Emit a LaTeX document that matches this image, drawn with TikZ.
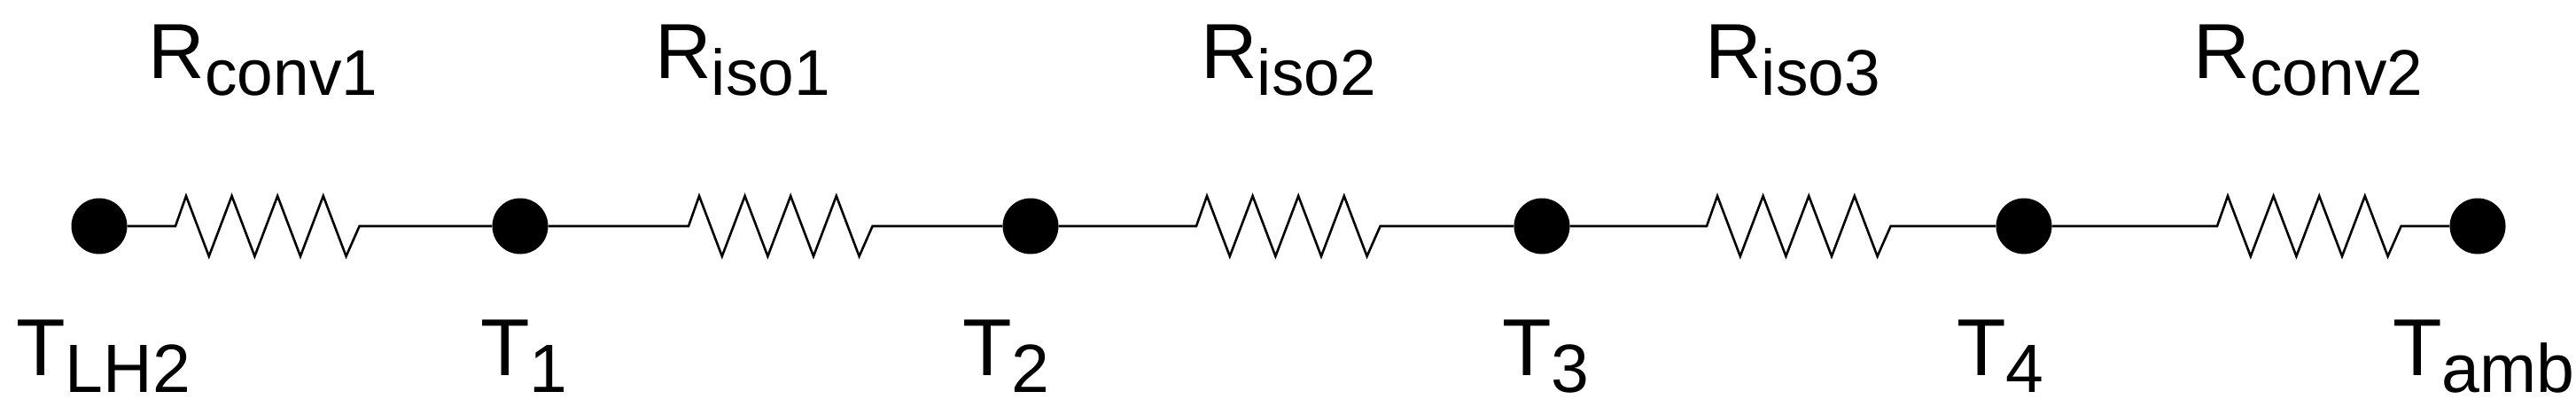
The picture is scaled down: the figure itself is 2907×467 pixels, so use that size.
\documentclass[tikz,border=0pt]{standalone}
\usepackage{fontspec}
\setmainfont{Liberation Sans}
\newcommand\zigzag{-- ++(12,-34) -- ++(25.8,68) -- ++(25.8,-68) -- ++(25.8,68) -- ++(25.8,-68) -- ++(25.8,68) -- ++(25.8,-68) -- ++(25.8,68) -- ++(15,-34)}
\newcommand\Rlab[1]{\fontsize{88}{90}\selectfont R\raisebox{-19pt}{\fontsize{73}{75}\selectfont #1}}
\newcommand\Tlab[1]{\fontsize{91}{94}\selectfont T\raisebox{-19pt}{\fontsize{77}{80}\selectfont #1}}
\begin{document}
\begin{tikzpicture}[x=1pt,y=-1pt,
  dot/.style={circle,fill=black,inner sep=0pt,minimum size=63pt},
  lab/.style={inner sep=0pt,anchor=base},
  wire/.style={line width=2.6pt,line join=miter}]
\useasboundingbox (0,0) rectangle (2907,467);
\node[dot] (d0) at (112,255) {};
\node[dot] (d1) at (587,255) {};
\node[dot] (d2) at (1163,255) {};
\node[dot] (d3) at (1740,255) {};
\node[dot] (d4) at (2284,255) {};
\node[dot] (d5) at (2796,255) {};
\coordinate (r1) at (198,255);
\coordinate (r2) at (777,255);
\coordinate (r3) at (1350,255);
\coordinate (r4) at (1926,255);
\coordinate (r5) at (2502,255);
\draw[wire] (d0) -- (r1) \zigzag -- (d1);
\draw[wire] (d1) -- (r2) \zigzag -- (d2);
\draw[wire] (d2) -- (r3) \zigzag -- (d3);
\draw[wire] (d3) -- (r4) \zigzag -- (d4);
\draw[wire] (d4) -- (r5) \zigzag -- (d5);
\node[lab] (l1) at (297,88) {\Rlab{conv1}};
\node[lab] (l2) at (838,88) {\Rlab{iso1}};
\node[lab] (l3) at (1454,88) {\Rlab{iso2}};
\node[lab] (l4) at (2023,88) {\Rlab{iso3}};
\node[lab] (l5) at (2605,88) {\Rlab{conv2}};
\node[lab,anchor=base west] (t0) at (18,423) {\Tlab{LH2}};
\node[lab,anchor=base west] (t1) at (542,423) {\Tlab{1}};
\node[lab,anchor=base west] (t2) at (1086,423) {\Tlab{2}};
\node[lab,anchor=base west] (t3) at (1695,423) {\Tlab{3}};
\node[lab,anchor=base west] (t4) at (2208,423) {\Tlab{4}};
\node[lab,anchor=base west] (t5) at (2700,423) {\Tlab{amb}};
\end{tikzpicture}
\end{document}
